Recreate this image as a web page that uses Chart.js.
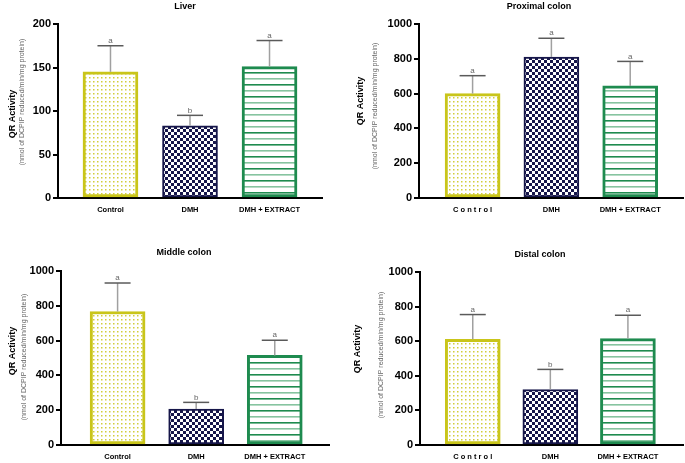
<!DOCTYPE html>
<html>
<head>
<meta charset="utf-8">
<title>QR Activity</title>
<script src="https://cdn.jsdelivr.net/npm/chart.js@4.4.1/dist/chart.umd.min.js"></script>
<style>
  html, body { margin: 0; padding: 0; background: #fff; }
  #wrap { position: relative; width: 685px; height: 463px; overflow: hidden; }
  canvas { position: absolute; }
</style>
</head>
<body>
<div id="wrap">
  <canvas id="c1" style="left:0;top:0" width="340" height="230"></canvas>
  <canvas id="c2" style="left:340px;top:0" width="345" height="230"></canvas>
  <canvas id="c3" style="left:0;top:230px" width="340" height="233"></canvas>
  <canvas id="c4" style="left:340px;top:230px" width="345" height="233"></canvas>
</div>
<script>
// groups on the x axis
const groups = ["Control", "DMH", "DMH + EXTRACT"];
const groupsSpaced = ["C o n t r o l", "DMH", "DMH + EXTRACT"];

// mean and error (upper bar only) for each tissue
const liverMean = [145, 83, 151];
const liverErr = [30, 12, 30];
const liverLetters = ["a", "b", "a"];

const proximalMean = [600, 810, 644];
const proximalErr = [103, 108, 141];
const proximalLetters = ["a", "a", "a"];

const middleMean = [767, 207, 515];
const middleErr = [164, 38, 87];
const middleLetters = ["a", "b", "a"];

const distalMean = [611, 321, 615];
const distalErr = [143, 116, 135];
const distalLetters = ["a", "b", "a"];

const yTitle = "QR Activity";
const ySubTitle = "(nmol of DCPIP reduced/min/mg protein)";
const FONT = '"Liberation Sans", Arial, Helvetica, sans-serif';

// fill patterns for the three groups
function makePattern(kind) {
  let c = document.createElement("canvas");
  let g = c.getContext("2d");
  if (kind === "dots") {
    c.width = 4; c.height = 4;
    g.fillStyle = "#fff"; g.fillRect(0, 0, 4, 4);
    g.fillStyle = "#d2cd3c"; g.fillRect(1, 1, 1.5, 1.5);
  } else if (kind === "check") {
    c.width = 6; c.height = 6;
    g.fillStyle = "#fff"; g.fillRect(0, 0, 6, 6);
    g.fillStyle = "#16164a";
    g.fillRect(0, 0, 3, 3); g.fillRect(3, 3, 3, 3);
  } else {
    c.width = 4; c.height = 12;
    g.fillStyle = "#fff"; g.fillRect(0, 0, 4, 12);
    g.fillStyle = "#1e8b4f"; g.fillRect(0, 0, 4, 1.6);
    g.fillStyle = "#86c4a0"; g.fillRect(0, 6, 4, 1.6);
  }
  return g.createPattern(c, "repeat");
}

const decor = {
  id: "decor",
  afterDatasetsDraw(chart, args, o) {
    let ctx = chart.ctx;
    let xs = chart.scales.x, ys = chart.scales.y;
    ctx.save();
    o.mean.forEach((v, i) => {
      let x = xs.getPixelForValue(i);
      let y0 = ys.getPixelForValue(v);
      let y1 = ys.getPixelForValue(v + o.err[i]);
      ctx.strokeStyle = "#a0a0a0";
      ctx.lineWidth = 1.5;
      ctx.beginPath(); ctx.moveTo(x, y0); ctx.lineTo(x, y1); ctx.stroke();
      ctx.strokeStyle = "#5a5a5a";
      ctx.beginPath(); ctx.moveTo(x - 13, y1); ctx.lineTo(x + 13, y1); ctx.stroke();
      ctx.fillStyle = "#666";
      ctx.font = "8px " + FONT;
      ctx.textAlign = "center";
      ctx.textBaseline = "bottom";
      ctx.fillText(o.letters[i], x, y1 - 1);
    });
    ctx.restore();
  },
  afterDraw(chart, args, o) {
    let ctx = chart.ctx;
    ctx.save();
    ctx.fillStyle = "#000";
    ctx.font = "bold 9px " + FONT;
    ctx.textAlign = "center";
    ctx.textBaseline = "middle";
    ctx.fillText(o.title, o.titleX, o.titleY);

    ctx.save();
    ctx.translate(o.qrX, o.qrY);
    ctx.rotate(-Math.PI / 2);
    ctx.font = "bold 9px " + FONT;
    ctx.fillText(yTitle, 0, 0);
    ctx.restore();

    ctx.save();
    ctx.translate(o.subX, o.subY);
    ctx.rotate(-Math.PI / 2);
    ctx.font = "7px " + FONT;
    ctx.fillStyle = "#666";
    ctx.fillText(ySubTitle, 0, 0);
    ctx.restore();
    ctx.restore();
  }
};

const Y_W = 38, X_H = 16;

function createChart(p) {
  let canvas = document.getElementById(p.id);
  let w = canvas.width, h = canvas.height;
  new Chart(canvas.getContext("2d"), {
    type: "bar",
    data: {
      datasets: [{
        data: p.mean.map((v, i) => ({ x: i, y: v })),
        backgroundColor: [makePattern("dots"), makePattern("check"), makePattern("stripes")],
        borderColor: ["#c9c51a", "#16164a", "#1e8b4f"],
        borderWidth: [3, 2, 3],
        borderSkipped: false,
        barThickness: 55
      }]
    },
    options: {
      responsive: false,
      animation: false,
      devicePixelRatio: 1,
      layout: {
        padding: { left: p.area.L - Y_W, top: p.area.T, right: w - p.area.R, bottom: h - p.area.B - X_H }
      },
      plugins: {
        legend: { display: false },
        tooltip: { enabled: false },
        decor: {
          mean: p.mean, err: p.err, letters: p.letters,
          title: p.title, titleX: p.titleX, titleY: p.titleY,
          qrX: p.qrX, qrY: p.qrY, subX: p.subX, subY: p.subY
        }
      },
      scales: {
        x: {
          type: "linear",
          offset: false,
          min: p.xMin, max: p.xMax,
          afterBuildTicks: s => { s.ticks = p.labels.map((c, i) => ({ value: i })); },
          afterFit: s => { s.height = X_H; },
          ticks: {
            callback: v => p.labels[v],
            color: "#000",
            font: { family: FONT, size: 7.5, weight: "bold" },
            padding: 7,
            maxRotation: 0,
            autoSkip: false
          },
          grid: { display: false, drawTicks: false, offset: false },
          border: { color: "#000", width: 2 }
        },
        y: {
          min: 0, max: p.yMax,
          afterFit: s => { s.width = Y_W; },
          ticks: {
            stepSize: p.yStep,
            callback: v => String(v),
            color: "#000",
            font: { family: FONT, size: 11, weight: "bold" },
            padding: 2
          },
          grid: { drawOnChartArea: false, drawTicks: true, tickLength: 5, color: "#000", lineWidth: 2 },
          border: { color: "#000", width: 2 }
        }
      }
    },
    plugins: [decor]
  });
}

const panels = [
  { id: "c1", title: "Liver", labels: groups, mean: liverMean, err: liverErr, letters: liverLetters,
    yMax: 200, yStep: 50, area: { L: 58, T: 24, R: 322, B: 198 }, xMin: -0.66, xMax: 2.66,
    titleX: 185, titleY: 7, qrX: 13, qrY: 114, subX: 22, subY: 102 },
  { id: "c2", title: "Proximal colon", labels: groupsSpaced, mean: proximalMean, err: proximalErr, letters: proximalLetters,
    yMax: 1000, yStep: 200, area: { L: 79, T: 24, R: 343, B: 198 }, xMin: -0.68, xMax: 2.67,
    titleX: 199, titleY: 7, qrX: 21, qrY: 101, subX: 35, subY: 106 },
  { id: "c3", title: "Middle colon", labels: groups, mean: middleMean, err: middleErr, letters: middleLetters,
    yMax: 1000, yStep: 200, area: { L: 61, T: 41, R: 329, B: 215 }, xMin: -0.72, xMax: 2.69,
    titleX: 184, titleY: 23, qrX: 13, qrY: 121, subX: 24, subY: 127 },
  { id: "c4", title: "Distal colon", labels: groupsSpaced, mean: distalMean, err: distalErr, letters: distalLetters,
    yMax: 1000, yStep: 200, area: { L: 80, T: 42, R: 343, B: 215 }, xMin: -0.68, xMax: 2.71,
    titleX: 200, titleY: 25, qrX: 18, qrY: 119, subX: 41, subY: 125 }
];

panels.forEach(p => createChart(p));
</script>
</body>
</html>
